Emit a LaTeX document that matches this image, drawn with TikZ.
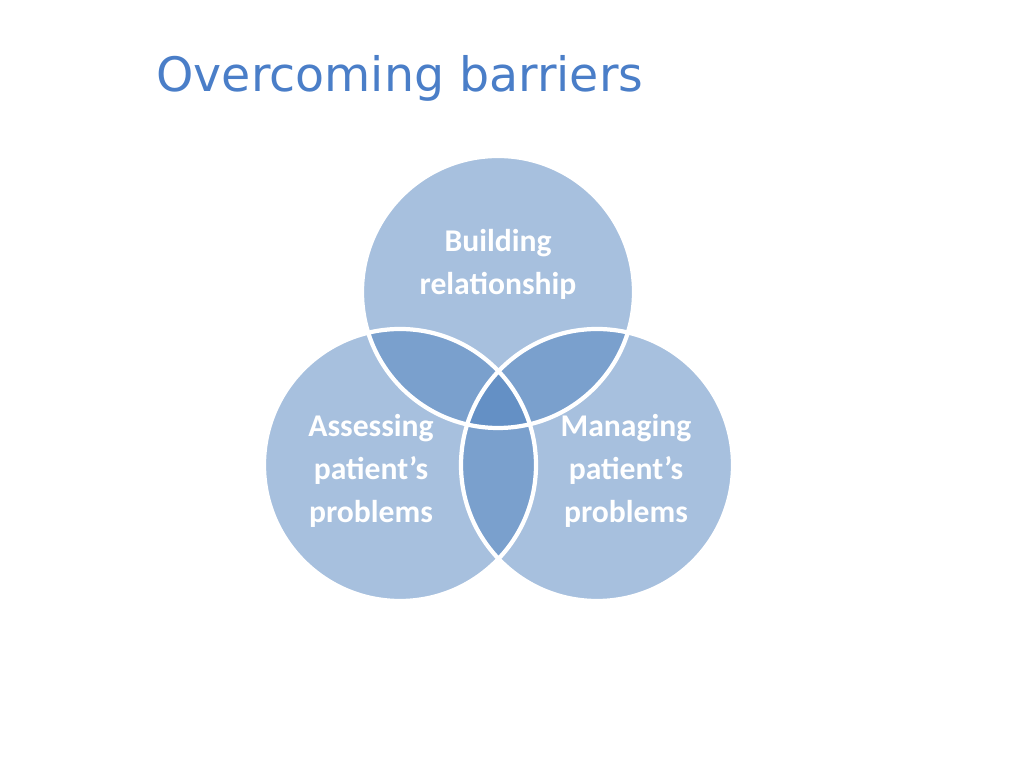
\documentclass[tikz,border=0pt]{standalone}
\usepackage{fontspec}
\setmainfont{Carlito}
\newfontfamily\titlefont{DejaVu Sans}
\definecolor{vennblue}{HTML}{4F81BD}
\definecolor{titleblue}{HTML}{4A7EC8}
\tikzset{
  venn/.style={circle, minimum size=2.72cm, inner sep=0pt, fill=vennblue, fill opacity=0.5},
  vennrim/.style={circle, minimum size=2.72cm, inner sep=0pt, draw=white, line width=1.2pt},
  venntext/.style={text=white, align=center, font=\bfseries\fontsize{9}{12.2}\selectfont},
}
\begin{document}
\begin{tikzpicture}
  \useasboundingbox (0,0) rectangle (10.24,7.68);
  % title
  \node[anchor=west, text=titleblue, font=\titlefont\fontsize{13.5}{16}\selectfont] (title) at (1.44,6.90) {Overcoming barriers};
  % circles
  \node[venn] (top) at (4.98,4.76) {};
  \node[venn] (left) at (4.00,3.03) {};
  \node[venn] (right) at (5.97,3.03) {};
  \node[vennrim] (toprim) at (top) {};
  \node[vennrim] (leftrim) at (left) {};
  \node[vennrim] (rightrim) at (right) {};
  % labels
  \node[venntext] (toplabel) at (4.98,5.04) {Building\\relationship};
  \node[venntext] (leftlabel) at (3.71,2.97) {Assessing\\patient’s\\problems};
  \node[venntext] (rightlabel) at (6.26,2.97) {Managing\\patient’s\\problems};
\end{tikzpicture}
\end{document}
